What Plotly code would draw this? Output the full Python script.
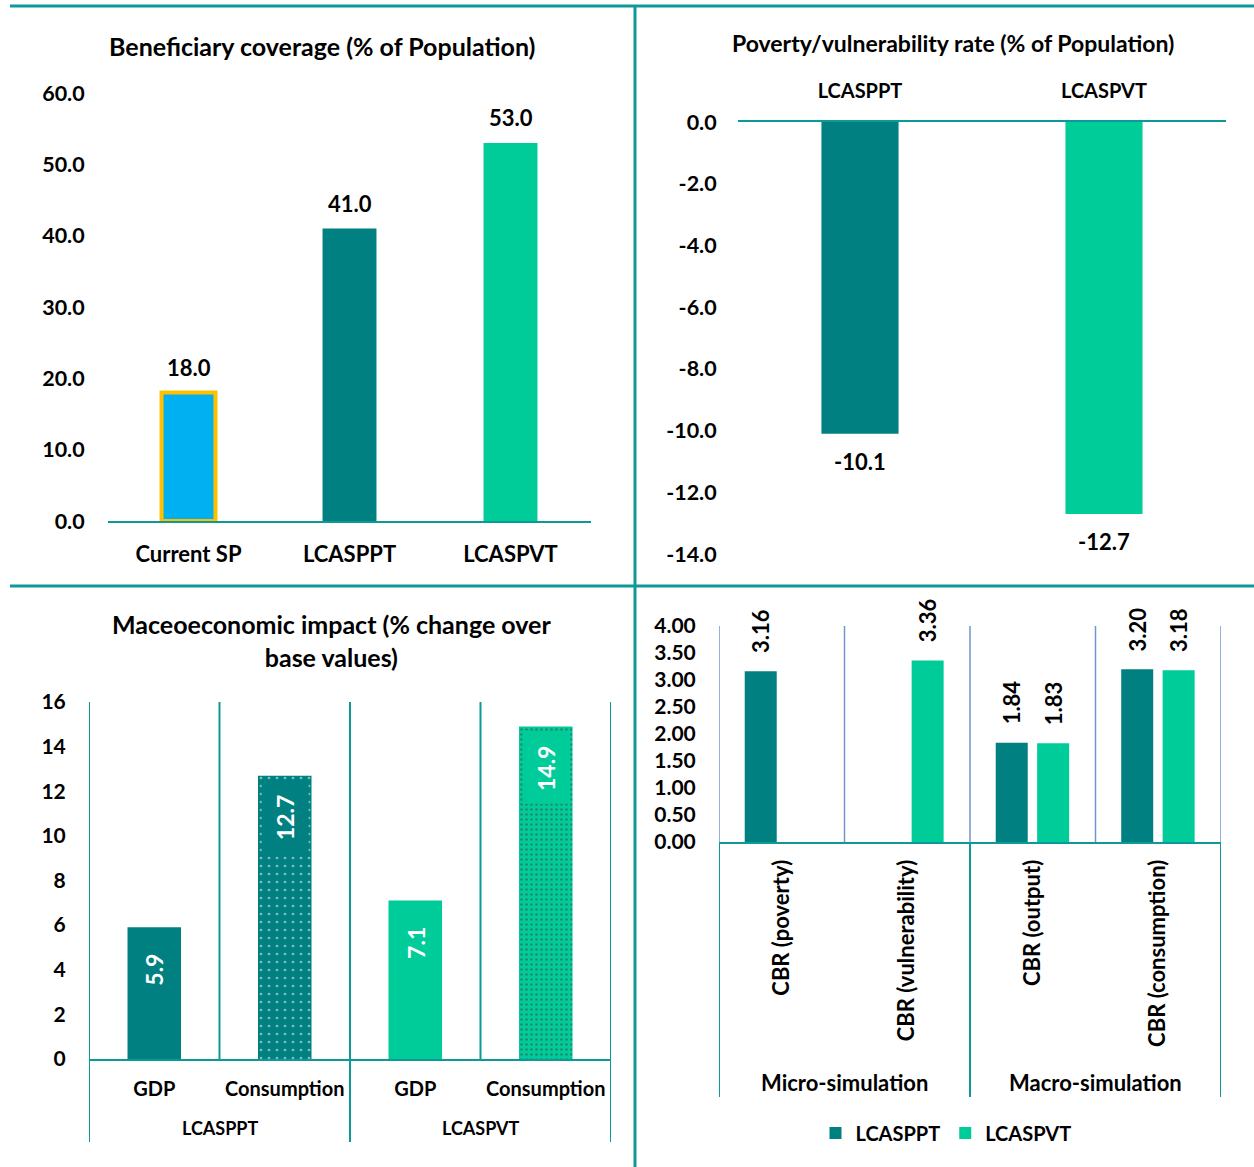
import plotly.graph_objects as go

W, H = 1254, 1167
FONT = "Lato"
TEAL = "#008080"
GREEN = "#00CC99"
BLUE = "#00B0F0"
GOLD = "#FFC000"
LINE = "#0E9999"
GRIDBLUE = "#6F96D1"

# ---------------- data ----------------
cov_cats = ["Current SP", "LCASPPT", "LCASPVT"]
cov_vals = [18.0, 41.0, 53.0]

pov_cats = ["LCASPPT", "LCASPVT"]
pov_vals = [-10.1, -12.7]

macro_groups = ["LCASPPT", "LCASPVT"]
macro_items = ["GDP", "Consumption", "GDP", "Consumption"]
macro_vals = [5.9, 12.7, 7.1, 14.9]

cbr_cats = ["CBR (poverty)", "CBR (vulnerability)", "CBR (output)", "CBR (consumption)"]
cbr_groups = ["Micro-simulation", "Macro-simulation"]
cbr_ppt = [3.16, None, 1.84, 3.20]
cbr_pvt = [None, 3.36, 1.83, 3.18]

cov_ticks = [0, 10, 20, 30, 40, 50, 60]
pov_ticks = [0, -2, -4, -6, -8, -10, -12, -14]
macro_ticks = [0, 2, 4, 6, 8, 10, 12, 14, 16]
cbr_ticks = [0, 0.5, 1, 1.5, 2, 2.5, 3, 3.5, 4]


def px(v):
    return v / W


def py(v):
    return 1 - v / H


def f(size, color="black"):
    return dict(family=FONT, size=size, color=color, weight="bold")


fig = go.Figure()

# ---------- panel 1 ----------
fig.add_trace(go.Bar(
    x=cov_cats, y=cov_vals, width=0.335, xaxis="x", yaxis="y",
    marker=dict(color=[BLUE, TEAL, GREEN], line=dict(color=[GOLD, TEAL, GREEN], width=[4, 0, 0])),
    showlegend=False, hoverinfo="skip"))

# ---------- panel 2 ----------
fig.add_trace(go.Bar(
    x=pov_cats, y=pov_vals, width=0.316, xaxis="x2", yaxis="y2",
    marker=dict(color=[TEAL, GREEN], line=dict(width=0)),
    showlegend=False, hoverinfo="skip"))

# ---------- panel 3 ----------
macro_colors = [TEAL, TEAL, GREEN, GREEN]
fig.add_trace(go.Bar(
    x=list(range(len(macro_vals))), y=macro_vals, width=0.41, xaxis="x3", yaxis="y3",
    marker=dict(color=macro_colors, line=dict(width=0),
                pattern=dict(shape=["", ".", "", "."], fgcolor="white", bgcolor=macro_colors,
                             size=[8, 8, 5, 5], solidity=[0.09, 0.09, 0.22, 0.22])),
    showlegend=False, hoverinfo="skip"))

# ---------- panel 4 ----------
BW = 0.255
OFFS = [-0.295, 0.035]
for name, vals, col, off in [("LCASPPT", cbr_ppt, TEAL, OFFS[0]), ("LCASPVT", cbr_pvt, GREEN, OFFS[1])]:
    fig.add_trace(go.Bar(
        x=list(range(len(vals))), y=vals, width=BW, offset=off, name=name,
        xaxis="x4", yaxis="y4", marker=dict(color=col, line=dict(width=0)),
        showlegend=True, hoverinfo="skip"))

annotations = []
shapes = []


def pann(text, x, y, size):
    return dict(text=text, x=px(x), y=py(y), xref="paper", yref="paper", showarrow=False,
                xanchor="center", yanchor="middle", font=f(size))


# titles
annotations.append(pann("Beneficiary coverage (% of Population)", 322, 46, 25))
annotations.append(pann("Poverty/vulnerability rate (% of Population)", 953, 43, 23))
annotations.append(pann("Maceoeconomic impact (% change over<br>base values)", 332, 641, 25))

# panel 1 labels
for c, v in zip(cov_cats, cov_vals):
    annotations.append(dict(text=f"{v:.1f}", x=c, y=v, xref="x", yref="y", showarrow=False,
                            xanchor="center", yanchor="bottom", yshift=10, font=f(22)))
# panel 2 labels
for c, v in zip(pov_cats, pov_vals):
    annotations.append(dict(text=f"{v:.1f}", x=c, y=v, xref="x2", yref="y2", showarrow=False,
                            xanchor="center", yanchor="top", yshift=-12, font=f(22)))
# panel 3 labels
for i, v in enumerate(macro_vals):
    annotations.append(dict(text=f"{v:.1f}", x=i, y=v, xref="x3", yref="y3", showarrow=False,
                            xanchor="center", yanchor="top", textangle=-90, width=70, height=46,
                            borderpad=0, yshift=-6, bgcolor=macro_colors[i], font=f(23, "white")))
# panel 4 labels
for vals, off in [(cbr_ppt, OFFS[0]), (cbr_pvt, OFFS[1])]:
    for i, v in enumerate(vals):
        if v is None:
            continue
        annotations.append(dict(text=f"{v:.2f}", x=i + off + BW / 2, y=v, xref="x4", yref="y4",
                                showarrow=False, xanchor="center", yanchor="bottom", textangle=-90,
                                yshift=16, font=f(22)))

# panel 3 group labels and separators
for g, name in enumerate(macro_groups):
    annotations.append(dict(text=name, x=2 * g + 0.5, y=py(1128), xref="x3", yref="paper",
                            showarrow=False, xanchor="center", yanchor="middle", font=f(18)))
for xb in [-0.5, 0.5, 1.5, 2.5, 3.5]:
    shapes.append(dict(type="line", xref="x3", yref="y3", x0=xb, x1=xb, y0=0, y1=16,
                       line=dict(color=LINE, width=2)))
for xb in [-0.5, 1.5, 3.5]:
    shapes.append(dict(type="line", xref="x3", yref="paper", x0=xb, x1=xb, y0=py(1142), y1=py(1059),
                       line=dict(color=LINE, width=2)))

# panel 4 group labels and separators
for g, name in enumerate(cbr_groups):
    annotations.append(dict(text=name, x=2 * g + 0.5, y=py(1082), xref="x4", yref="paper",
                            showarrow=False, xanchor="center", yanchor="middle", font=f(22)))
for xb in [-0.5, 0.5, 1.5, 2.5, 3.5]:
    shapes.append(dict(type="line", xref="x4", yref="y4", x0=xb, x1=xb, y0=0, y1=4,
                       line=dict(color=GRIDBLUE, width=1.5)))
for xb in [-0.5, 1.5, 3.5]:
    shapes.append(dict(type="line", xref="x4", yref="paper", x0=xb, x1=xb, y0=py(1097), y1=py(842),
                       line=dict(color=LINE, width=2)))

# panel dividers
shapes.append(dict(type="line", xref="paper", yref="paper", x0=px(10), x1=1, y0=py(6), y1=py(6),
                   line=dict(color=LINE, width=3)))
shapes.append(dict(type="line", xref="paper", yref="paper", x0=px(10), x1=1, y0=py(586), y1=py(586),
                   line=dict(color=LINE, width=3)))
shapes.append(dict(type="line", xref="paper", yref="paper", x0=px(635), x1=px(635), y0=0, y1=py(6),
                   line=dict(color=LINE, width=3)))

common = dict(ticks="outside", tickcolor="rgba(0,0,0,0)", automargin=False, fixedrange=True,
              showgrid=False, zeroline=False)

fig.update_layout(
    width=W, height=H, margin=dict(l=0, r=0, t=0, b=0, autoexpand=False),
    paper_bgcolor="white", plot_bgcolor="rgba(0,0,0,0)",
    barmode="overlay", font=dict(family=FONT, color="black"),
    annotations=annotations, shapes=shapes,
    legend=dict(orientation="h", x=px(946), y=py(1133), xanchor="center", yanchor="middle",
                font=f(20), traceorder="normal"),
    xaxis=dict(domain=[px(108), px(591)], anchor="y", showline=True, linecolor=LINE,
               linewidth=2, tickfont=f(22), ticklen=13, **common),
    yaxis=dict(domain=[py(521), py(93)], anchor="x", range=[0, 60],
               tickvals=cov_ticks, ticktext=[f"{t:.1f}" for t in cov_ticks], tickfont=f(21.5), ticklen=18,
               **common),
    xaxis2=dict(domain=[px(738), px(1226)], anchor="y2", side="top", showline=True,
                linecolor=LINE, linewidth=2, tickfont=f(20), ticklen=14, **common),
    yaxis2=dict(domain=[py(554), py(122)], anchor="x2", range=[-14, 0],
                tickvals=pov_ticks, ticktext=[f"{t:.1f}" for t in pov_ticks], tickfont=f(21.5), ticklen=16,
                **common),
    xaxis3=dict(domain=[px(89), px(611)], anchor="y3", range=[-0.5, 3.5], showline=True,
                linecolor=LINE, linewidth=2, tickvals=list(range(4)), ticktext=macro_items,
                tickfont=f(20), ticklen=11, **common),
    yaxis3=dict(domain=[py(1059), py(702)], anchor="x3", range=[0, 16],
                tickvals=macro_ticks, tickfont=f(21), ticklen=18, **common),
    xaxis4=dict(domain=[px(719), px(1221)], anchor="y4", range=[-0.5, 3.5], showline=True,
                linecolor=LINE, linewidth=2, tickvals=list(range(4)), ticktext=cbr_cats, tickangle=-90,
                tickfont=f(22), ticklen=7, **common),
    yaxis4=dict(domain=[py(842), py(626)], anchor="x4", range=[0, 4],
                tickvals=cbr_ticks, ticktext=[f"{t:.2f}" for t in cbr_ticks], tickfont=f(21), ticklen=18,
                **common),
)

fig.write_html("out.html")
